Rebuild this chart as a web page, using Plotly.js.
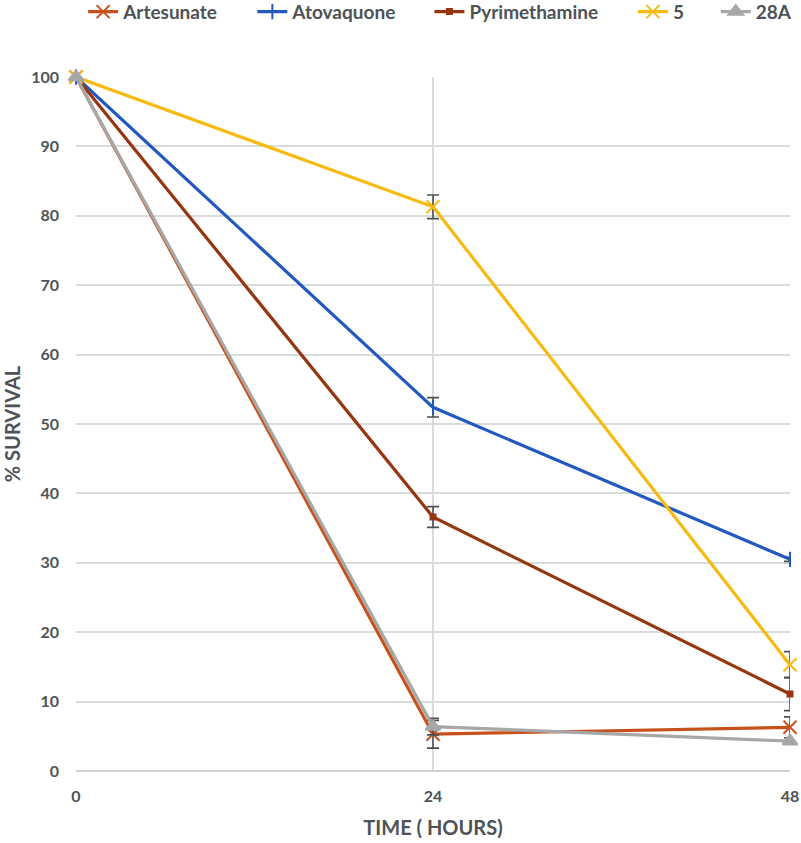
<!DOCTYPE html>
<html>
<head>
<meta charset="utf-8">
<script src="https://cdn.plot.ly/plotly-3.0.1.min.js"></script>
<style>html,body{margin:0;padding:0;background:#fff;}#chart{width:801px;height:843px;}</style>
</head>
<body>
<div id="chart"></div>
<script>
const hours = [0, 24, 48];
const tickLabels = ['0', '24', '48'];

const artesunate = [100, 5.3, 6.3];
const artesunateErr = [0, 2.0, 1.5];
const atovaquone = [100, 52.4, 30.5];
const atovaquoneErr = [0, 1.4, 0.3];
const pyrimethamine = [100, 36.6, 11.1];
const pyrimethamineErr = [0, 1.5, 2.4];
const cmpd5 = [100, 81.3, 15.3];
const cmpd5Err = [0, 1.7, 1.9];
const cmpd28A = [100, 6.4, 4.3];
const cmpd28AErr = [0, 1.2, 0];

const names = ['Artesunate', 'Atovaquone', 'Pyrimethamine', '5', '28A'];
const colors = ['#C8511B', '#2259C0', '#973510', '#F7BA10', '#A6A8A8'];
const symbols = ['x-thin-open', 'line-ns-open', 'square', 'x-thin-open', 'triangle-up'];
const sizes = [13, 11, 5, 13, 13];
const ys = [artesunate, atovaquone, pyrimethamine, cmpd5, cmpd28A];
const errs = [artesunateErr, atovaquoneErr, pyrimethamineErr, cmpd5Err, cmpd28AErr];
const legendIds = ['legend', 'legend2', 'legend3', 'legend4', 'legend5'];
const legendX = [0.010, 0.247, 0.495, 0.780, 0.896];

const traces = names.map((n, i) => ({
  x: hours, y: ys[i], name: n, type: 'scatter', mode: 'lines+markers',
  cliponaxis: false, legend: legendIds[i],
  line: {color: colors[i], width: 3.2},
  marker: {symbol: symbols[i], size: sizes[i], color: colors[i], line: {color: colors[i], width: 2}},
  error_y: {type: 'data', array: errs[i], visible: true, color: '#4A5054', thickness: 1.6, width: 6}
}));

const font = {family: 'Lato, "Open Sans", sans-serif', color: '#4D5356'};
const layout = {
  width: 801, height: 843,
  margin: {l: 76, r: 11, t: 77, b: 72, autoexpand: false},
  paper_bgcolor: '#fff', plot_bgcolor: '#fff',
  font: font,
  showlegend: true,
  xaxis: {
    range: [0, 48], tickvals: hours, ticktext: tickLabels,
    showgrid: true, gridcolor: '#DADCDC', gridwidth: 1.5,
    zeroline: false, showline: false, ticks: '', ticklabelstandoff: 14,
    tickfont: {size: 16, weight: 'bold', color: '#4D5356'},
    title: {text: 'TIME ( HOURS)', font: {size: 20, weight: 'bold', color: '#4D5356'}, standoff: 16}
  },
  yaxis: {
    range: [0, 100], dtick: 10,
    showgrid: true, gridcolor: '#DADCDC', gridwidth: 1.5,
    zeroline: true, zerolinecolor: '#D0D2D2', zerolinewidth: 1.5,
    showline: false, ticks: '', ticklabelstandoff: 16,
    tickfont: {size: 16, weight: 'bold', color: '#4D5356'},
    title: {text: '% SURVIVAL', font: {size: 20, weight: 'bold', color: '#4D5356'}, standoff: 12}
  }
};
legendIds.forEach((id, i) => {
  layout[id] = {orientation: 'h', x: legendX[i], xanchor: 'left', y: 1.094, yanchor: 'middle',
    bgcolor: 'rgba(0,0,0,0)',
    font: {family: font.family, size: 19, color: '#4D5356', weight: 'bold'}};
});
Plotly.newPlot('chart', traces, layout, {displayModeBar: false});
</script>
</body>
</html>
